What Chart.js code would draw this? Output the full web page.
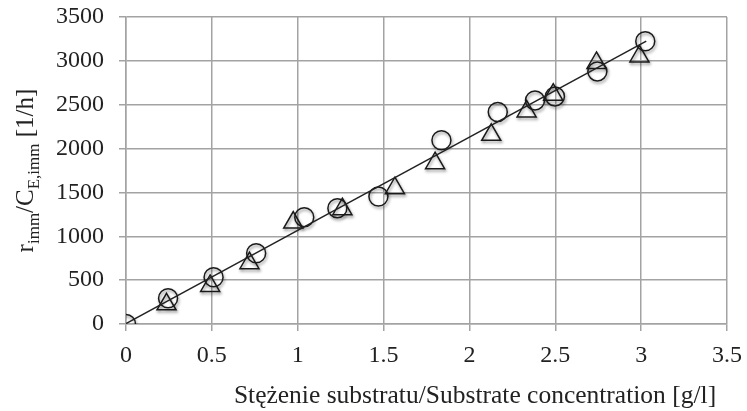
<!DOCTYPE html>
<html>
<head>
<meta charset="utf-8">
<script src="https://cdn.jsdelivr.net/npm/chart.js@4/dist/chart.umd.min.js"></script>
<style>
  html, body { margin: 0; padding: 0; background: #fff; }
  #wrap { width: 747px; height: 411px; }
</style>
</head>
<body>
<div id="wrap"><canvas id="rateChart" width="747" height="411"></canvas></div>
<script>
// Data
const xTicks = [0, 0.5, 1, 1.5, 2, 2.5, 3, 3.5];
const yTicks = [0, 500, 1000, 1500, 2000, 2500, 3000, 3500];

// circles
const concCircle = [0, 0.245, 0.51, 0.758, 1.038, 1.231, 1.47, 1.837, 2.165, 2.382, 2.498, 2.745, 3.024];
const rateCircle = [0, 293, 533, 807, 1218, 1321, 1453, 2095, 2417, 2549, 2595, 2880, 3223];

// triangles
const concTriangle = [0.236, 0.49, 0.719, 0.974, 1.26, 1.566, 1.80, 2.127, 2.333, 2.488, 2.74, 2.99];
const rateTriangle = [225, 434, 693, 1156, 1309, 1549, 1834, 2157, 2424, 2614, 2976, 3051];

// trend line end points
const trendX = [0, 3.03];
const trendY = [5, 3225];

const xTitleText = 'Stężenie substratu/Substrate concentration [g/l]';

const serif = '"Liberation Serif", "Times New Roman", serif';
const gridGray = '#a3a3a3';

function toPoints(xs, ys) {
    return xs.map((x, i) => ({ x: x, y: ys[i] }));
}

// soft shadow under the markers
const markerShadow = {
    id: 'markerShadow',
    beforeDatasetDraw(chart, args) {
        const ctx = chart.ctx;
        ctx.save();
        if (args.index > 0) {
            ctx.shadowColor = 'rgba(0,0,0,0.45)';
            ctx.shadowBlur = 3;
            ctx.shadowOffsetX = 1;
            ctx.shadowOffsetY = 2;
        }
    },
    afterDatasetDraw(chart) {
        chart.ctx.restore();
    }
};

// axis titles (y one has subscripts, x one sits right of centre)
const axisTitles = {
    id: 'axisTitles',
    afterDraw(chart) {
        const ctx = chart.ctx;
        const area = chart.chartArea;
        ctx.save();
        ctx.fillStyle = '#222';
        ctx.font = '25.5px ' + serif;
        ctx.textAlign = 'center';
        ctx.textBaseline = 'alphabetic';
        ctx.fillText(xTitleText, 475, 403);
        ctx.restore();

        const parts = [
            { t: 'r', sub: false },
            { t: 'imm', sub: true },
            { t: '/C', sub: false },
            { t: 'E,imm', sub: true },
            { t: ' [1/h]', sub: false }
        ];
        const mainFont = '25px ' + serif;
        const subFont = '17px ' + serif;
        ctx.save();
        let total = 0;
        parts.forEach(p => {
            ctx.font = p.sub ? subFont : mainFont;
            p.w = ctx.measureText(p.t).width;
            total += p.w;
        });
        ctx.translate(33, (area.top + area.bottom) / 2);
        ctx.rotate(-Math.PI / 2);
        ctx.fillStyle = '#222';
        ctx.textAlign = 'left';
        ctx.textBaseline = 'alphabetic';
        let x = -total / 2;
        parts.forEach(p => {
            ctx.font = p.sub ? subFont : mainFont;
            ctx.fillText(p.t, x, p.sub ? 6 : 0);
            x += p.w;
        });
        ctx.restore();
    }
};

new Chart(document.getElementById('rateChart').getContext('2d'), {
    type: 'scatter',
    data: {
        datasets: [
            {
                type: 'line',
                data: toPoints(trendX, trendY),
                borderColor: '#222',
                borderWidth: 1.5,
                pointRadius: 0,
                fill: false,
                order: 0
            },
            {
                data: toPoints(concCircle, rateCircle),
                pointStyle: 'circle',
                pointRadius: 9.5,
                borderColor: '#1a1a1a',
                borderWidth: 1.5,
                backgroundColor: 'rgba(0,0,0,0)'
            },
            {
                data: toPoints(concTriangle, rateTriangle),
                pointStyle: 'triangle',
                pointRadius: 11,
                borderColor: '#1a1a1a',
                borderWidth: 1.5,
                backgroundColor: 'rgba(0,0,0,0)'
            }
        ]
    },
    options: {
        responsive: false,
        animation: false,
        layout: { padding: { top: 17, right: 20, left: 0, bottom: 0 } },
        plugins: {
            legend: { display: false },
            tooltip: { enabled: false }
        },
        scales: {
            x: {
                type: 'linear',
                min: 0,
                max: 3.5,
                afterBuildTicks: axis => { axis.ticks = xTicks.map(v => ({ value: v })); },
                afterFit: axis => {
                    axis.height = 87;
                    axis.paddingLeft = 0;
                    axis.paddingRight = 0;
                },
                grid: { color: gridGray, lineWidth: 1.5, tickLength: 7, tickColor: gridGray },
                border: { color: gridGray, width: 1.5 },
                ticks: {
                    color: '#222',
                    font: { family: serif, size: 24 },
                    padding: 10,
                    maxRotation: 0,
                    callback: v => String(v)
                }
            },
            y: {
                type: 'linear',
                min: 0,
                max: 3500,
                afterBuildTicks: axis => { axis.ticks = yTicks.map(v => ({ value: v })); },
                afterFit: axis => {
                    axis.width = 126;
                    axis.paddingTop = 0;
                    axis.paddingBottom = 0;
                },
                grid: { color: gridGray, lineWidth: 1.5, tickLength: 7, tickColor: gridGray },
                border: { color: gridGray, width: 1.5 },
                ticks: {
                    color: '#222',
                    font: { family: serif, size: 24 },
                    padding: 15,
                    callback: v => String(v)
                }
            }
        }
    },
    plugins: [markerShadow, axisTitles]
});
</script>
</body>
</html>
